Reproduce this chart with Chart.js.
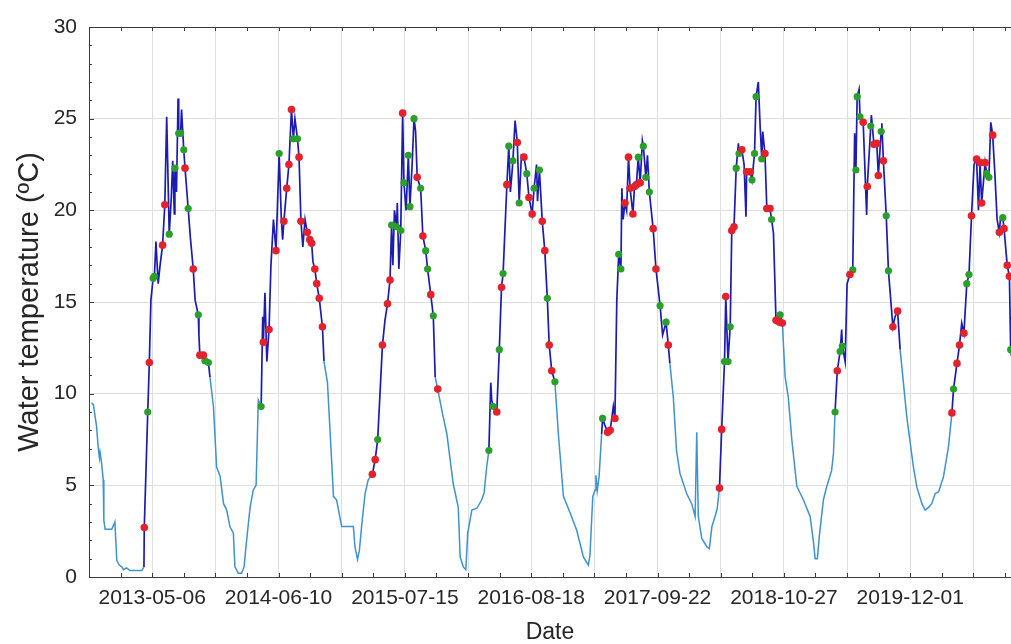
<!DOCTYPE html>
<html>
<head>
<meta charset="utf-8">
<title>Water temperature</title>
<script src="https://cdn.jsdelivr.net/npm/chart.js@4.4.1/dist/chart.umd.min.js"></script>
<style>
  html, body { margin: 0; padding: 0; background: #ffffff; overflow: hidden; }
  canvas { display: block; }
</style>
</head>
<body>
<canvas id="chart" width="1011" height="644"></canvas>
<script>
// Day 0 of the record is 2012-10-18; every x value below is a day count from it.
const START_DATE = Date.UTC(2012, 9, 18);

// Continuous water-temperature record (day, °C)
const dayNo = [
  8, 14, 24, 29, 33, 35, 40, 45, 47, 51, 72, 77, 82, 88, 96, 104, 109, 119, 130, 167,
  174, 175, 186, 191, 196, 203, 207, 212, 219, 225, 233, 240, 246, 254, 260, 265, 270, 272, 277, 282,
  284, 290, 293, 300, 304, 314, 321, 330, 336, 346, 348, 351, 362, 367, 378, 383, 394, 404, 415, 426,
  436, 446, 457, 462, 473, 483, 491, 499, 510, 520, 529, 536, 545, 550, 552, 557, 563, 570, 576, 584,
  592, 602, 609, 613, 617, 626, 633, 641, 647, 652, 660, 665, 671, 677, 684, 691, 699, 705, 709, 715,
  721, 729, 739, 744, 755, 763, 774, 784, 800, 837, 842, 850, 856, 863, 874, 884, 897, 906, 914, 929,
  937, 945, 953, 958, 962, 967, 974, 976, 981, 987, 993, 997, 1004, 1011, 1016, 1023, 1029, 1034, 1039, 1050,
  1057, 1066, 1072, 1082, 1090, 1096, 1104, 1117, 1133, 1153, 1169, 1175, 1185, 1193, 1199, 1212, 1228, 1243, 1251, 1259,
  1266, 1272, 1275, 1280, 1291, 1299, 1306, 1311, 1317, 1323, 1329, 1334, 1339, 1342, 1349, 1356, 1362, 1369, 1377, 1386,
  1393, 1403, 1409, 1417, 1420, 1426, 1435, 1443, 1451, 1457, 1465, 1475, 1486, 1502, 1523, 1544, 1555, 1565, 1581, 1586,
  1595, 1602, 1605, 1609, 1615, 1623, 1626, 1633, 1642, 1650, 1660, 1665, 1671, 1677, 1684, 1687, 1691, 1697, 1702, 1708,
  1713, 1722, 1727, 1733, 1739, 1745, 1752, 1755, 1763, 1768, 1774, 1786, 1795, 1808, 1816, 1827, 1834, 1839, 1850, 1860,
  1871, 1892, 1908, 1919, 1924, 1929, 1940, 1956, 1964, 1972, 1982, 1989, 1996, 2003, 2012, 2016, 2023, 2030, 2035, 2042,
  2049, 2056, 2058, 2067, 2074, 2080, 2082, 2093, 2099, 2107, 2112, 2119, 2125, 2130, 2133, 2140, 2146, 2156, 2161, 2167,
  2175, 2186, 2188, 2195, 2204, 2214, 2225, 2241, 2262, 2283, 2293, 2299, 2306, 2312, 2325, 2335, 2351, 2357, 2362, 2369,
  2378, 2383, 2385, 2394, 2400, 2409, 2418, 2424, 2428, 2432, 2438, 2441, 2451, 2462, 2464, 2475, 2477, 2485, 2494, 2499,
  2508, 2510, 2515, 2524, 2531, 2545, 2552, 2560, 2568, 2589, 2600, 2610, 2621, 2637, 2647, 2658, 2668, 2679, 2690, 2705,
  2721, 2732, 2737, 2748, 2756, 2763, 2770, 2779, 2786, 2794, 2802, 2810, 2816, 2821, 2826, 2837, 2842, 2849, 2855, 2861,
  2868, 2875, 2882, 2886, 2893, 2897, 2907, 2914, 2918, 2930
];
const tempC = [
  9.5, 9.4, 8.2, 7.1, 6.5, 6.8, 6.2, 5.3, 3.1, 2.6, 2.6, 2.8, 3.0, 0.9, 0.65, 0.55, 0.4, 0.5, 0.35, 0.35,
  0.55, 2.7, 9.0, 11.7, 15.1, 16.3, 16.4, 18.3, 16.0, 17.0, 18.1, 20.3, 25.1, 18.7, 20.5, 22.7, 19.8, 22.3, 21.0, 26.1,
  24.2, 24.2, 25.5, 23.3, 22.3, 20.1, 18.5, 16.8, 15.1, 14.3, 13.2, 12.1, 12.1, 11.8, 11.7, 10.9, 9.3, 6.0, 5.5, 4.0,
  3.65, 2.75, 2.4, 0.55, 0.2, 0.2, 0.55, 2.0, 3.8, 4.75, 5.0, 9.65, 9.3, 14.2, 12.8, 15.5, 11.75, 13.5, 17.0, 19.5,
  17.8, 23.1, 19.5, 18.4, 19.4, 21.2, 22.5, 25.5, 23.9, 25.0, 23.9, 22.9, 19.4, 18.0, 19.5, 18.8, 18.4, 18.2, 17.2, 16.8,
  16.0, 15.2, 13.65, 11.75, 10.6, 8.0, 4.4, 4.2, 2.75, 2.75, 1.65, 0.95, 1.45, 2.75, 4.55, 5.3, 5.6, 6.4, 7.5, 12.65,
  14.0, 14.9, 16.2, 19.2, 17.0, 20.0, 19.1, 20.4, 16.8, 18.9, 25.3, 21.5, 20.0, 23.0, 20.2, 22.5, 25.0, 24.3, 21.8, 21.2,
  18.6, 17.8, 16.8, 15.4, 14.25, 10.9, 10.25, 9.1, 7.8, 5.1, 3.8, 1.1, 0.55, 0.4, 2.4, 3.65, 3.75, 4.2, 4.6, 6.0,
  6.9, 10.6, 9.65, 9.3, 9.0, 12.4, 15.8, 16.55, 19.0, 21.4, 23.5, 21.0, 22.0, 22.7, 24.9, 23.7, 20.4, 23.0, 22.9, 22.0,
  20.7, 19.8, 21.2, 22.5, 20.5, 22.2, 19.4, 17.8, 15.2, 12.65, 11.25, 10.65, 7.8, 4.4, 3.5, 2.55, 1.8, 1.1, 0.65, 1.2,
  4.4, 4.75, 5.55, 4.7, 5.5, 7.8, 8.65, 8.3, 7.9, 8.0, 9.3, 8.65, 15.1, 17.6, 16.8, 21.2, 19.5, 20.4, 20.0, 22.9,
  21.2, 19.8, 21.3, 21.4, 22.9, 21.5, 23.8, 23.5, 21.8, 23.0, 21.0, 19.0, 16.8, 14.8, 13.2, 13.9, 12.65, 11.65, 9.8, 6.9,
  5.65, 4.55, 4.0, 3.3, 7.9, 3.3, 2.1, 1.65, 1.55, 2.75, 3.3, 3.75, 4.85, 8.05, 11.75, 15.3, 11.75, 13.65, 18.9, 19.1,
  22.3, 23.65, 23.1, 23.3, 22.5, 19.65, 22.1, 22.1, 21.65, 23.1, 26.2, 27.0, 24.5, 22.8, 24.3, 23.1, 20.1, 20.1, 19.5, 18.75,
  14.0, 13.9, 14.3, 13.85, 10.9, 9.8, 7.5, 4.95, 4.2, 3.3, 2.0, 1.0, 1.0, 2.2, 4.2, 4.9, 5.8, 6.75, 9.0, 11.25,
  12.3, 13.5, 12.6, 11.75, 16.0, 16.5, 16.75, 24.2, 22.2, 26.2, 26.6, 25.1, 24.8, 19.75, 21.3, 24.6, 25.2, 23.6, 23.65, 21.9,
  24.3, 24.75, 22.7, 19.7, 16.7, 13.65, 14.2, 14.5, 12.4, 8.75, 7.3, 6.0, 4.9, 4.0, 3.65, 3.8, 4.0, 4.55, 4.65, 5.45,
  7.1, 8.95, 10.25, 11.65, 12.65, 13.85, 13.3, 16.0, 16.5, 19.7, 22.5, 22.8, 20.0, 22.6, 20.4, 22.6, 22.0, 21.8, 24.8, 24.1,
  22.0, 19.5, 18.8, 19.6, 19.6, 19.0, 17.0, 16.4, 12.4, 11.0
];

// Warm-season windows (day ranges) drawn in dark blue
const seasonStart = [174, 545, 895, 1262, 1622, 1994, 2358, 2728];
const seasonEnd   = [385, 745, 1100, 1478, 1840, 2198, 2570, 2935];

// Sampling points, red set (day, °C)
const redDay = [
  175, 191, 233, 240, 304, 330, 351, 362,
  552, 570, 592, 617, 626, 633, 641, 665, 671, 691, 699, 705, 715, 721, 729, 739,
  897, 906, 929, 945, 953, 993, 1039, 1057, 1082, 1104,
  1291, 1306, 1323, 1356, 1377, 1393, 1403, 1435, 1443, 1457, 1465,
  1642, 1650, 1665, 1697, 1708, 1713, 1722, 1727, 1733, 1745, 1786, 1795, 1834,
  1996, 2003, 2016, 2035, 2042, 2067, 2082, 2093, 2140, 2146, 2156, 2175, 2186, 2195,
  2369, 2409, 2451, 2464, 2485, 2494, 2499, 2515, 2545, 2560,
  2732, 2748, 2756, 2770, 2794, 2810, 2821, 2826, 2837, 2861, 2882, 2897, 2907, 2914
];
const redTemp = [
  2.7, 11.7, 18.1, 20.3, 22.3, 16.8, 12.1, 12.1,
  12.8, 13.5, 17.8, 19.4, 21.2, 22.5, 25.5, 22.9, 19.4, 18.8, 18.4, 18.2, 16.8, 16.0, 15.2, 13.65,
  5.6, 6.4, 12.65, 14.9, 16.2, 25.3, 21.8, 18.6, 15.4, 10.25,
  9.0, 15.8, 21.4, 23.7, 22.9, 20.7, 19.8, 19.4, 17.8, 12.65, 11.25,
  7.9, 8.0, 8.65, 20.4, 22.9, 21.2, 19.8, 21.3, 21.4, 21.5, 19.0, 16.8, 12.65,
  4.85, 8.05, 15.3, 18.9, 19.1, 23.3, 22.1, 22.1, 23.1, 20.1, 20.1, 14.0, 13.9, 13.85,
  11.25, 16.5, 24.8, 21.3, 23.6, 23.65, 21.9, 22.7, 13.65, 14.5,
  8.95, 11.65, 12.65, 13.3, 19.7, 22.8, 22.6, 20.4, 22.6, 24.1, 18.8, 19.0, 17.0, 16.4
];

// Sampling points, green set (day, °C)
const greenDay = [
  186, 203, 207, 254, 272, 284, 290, 300, 314, 346, 367, 378,
  545, 602, 647, 660,
  914, 958, 974, 987, 997, 1011, 1016, 1029, 1050, 1066, 1072, 1090,
  1266, 1280, 1299, 1311, 1329, 1342, 1362, 1386, 1409, 1426, 1451, 1475,
  1626, 1677, 1684, 1739, 1755, 1763, 1774, 1808, 1827,
  2012, 2023, 2030, 2049, 2058, 2099, 2107, 2112, 2130, 2161, 2188,
  2362, 2378, 2385, 2418, 2428, 2432, 2441, 2475, 2508, 2524, 2531,
  2737, 2779, 2786, 2842, 2849, 2893, 2918
];
const greenTemp = [
  9.0, 16.3, 16.4, 18.7, 22.3, 24.2, 24.2, 23.3, 20.1, 14.3, 11.8, 11.7,
  9.3, 23.1, 23.9, 23.9,
  7.5, 19.2, 19.1, 18.9, 21.5, 23.0, 20.2, 25.0, 21.2, 17.8, 16.8, 14.25,
  6.9, 9.3, 12.4, 16.55, 23.5, 22.7, 20.4, 22.0, 21.2, 22.2, 15.2, 10.65,
  8.65, 17.6, 16.8, 22.9, 23.5, 21.8, 21.0, 14.8, 13.9,
  11.75, 11.75, 13.65, 22.3, 23.1, 21.65, 23.1, 26.2, 22.8, 19.5, 14.3,
  9.0, 12.3, 12.6, 16.75, 22.2, 26.2, 25.1, 24.6, 24.3, 19.7, 16.7,
  10.25, 16.0, 16.5, 22.0, 21.8, 19.6, 12.4
];

// Axis ranges and tick spacing
const X_MIN = 0, X_MAX = 2919;
const Y_MIN = 0, Y_MAX = 30;
const X_MINOR_STEP = 100, X_GRID_STEP = 200, X_LABEL_STEP = 400, X_LABEL_FIRST = 200;
const Y_MAJOR_STEP = 5;

const FONT = "'Liberation Sans', Arial, Helvetica, sans-serif";
const TEXT = '#262626';
const AXIS = '#3a3a3a';
const GRID = '#dedede';
const DARK = '#1c1cb0';
const LIGHT = '#3d92cf';
const RED = '#e3222c';
const GREEN = '#2b9f2b';

const fmtDate = v => new Date(START_DATE + v * 86400000).toISOString().slice(0, 10);
const inSeason = d => seasonStart.some((s, i) => d >= s && d <= seasonEnd[i]);
const pairs = (xs, ys) => xs.map((x, i) => ({ x, y: ys[i] }));

// Box outline on top plus inward tick marks on all drawn sides
const frame = {
  id: 'frame',
  afterDraw(chart) {
    const { ctx, chartArea: a, scales: { x, y } } = chart;
    ctx.save();
    ctx.strokeStyle = AXIS;
    ctx.lineWidth = 1;
    ctx.beginPath();
    ctx.moveTo(a.left, a.top + 0.5);
    ctx.lineTo(a.right, a.top + 0.5);
    for (let v = X_MIN; v <= X_MAX; v += X_MINOR_STEP) {
      const px = Math.round(x.getPixelForValue(v)) + 0.5;
      ctx.moveTo(px, a.bottom);
      ctx.lineTo(px, a.bottom - 4);
      ctx.moveTo(px, a.top);
      ctx.lineTo(px, a.top + 4);
    }
    for (let v = Y_MIN; v <= Y_MAX; v += 1) {
      const py = Math.round(y.getPixelForValue(v)) + 0.5;
      ctx.moveTo(a.left, py);
      ctx.lineTo(a.left + (v % Y_MAJOR_STEP ? 3 : 5), py);
    }
    ctx.stroke();
    ctx.restore();
  }
};

Chart.defaults.font.family = FONT;
Chart.defaults.color = TEXT;

new Chart(document.getElementById('chart'), {
  type: 'line',
  data: {
    datasets: [
      {
        label: 'Sampling (red)',
        data: pairs(redDay, redTemp),
        showLine: false,
        pointRadius: 3.8,
        pointBackgroundColor: RED,
        pointBorderColor: RED,
        pointBorderWidth: 0,
        order: 1
      },
      {
        label: 'Sampling (green)',
        data: pairs(greenDay, greenTemp),
        showLine: false,
        pointRadius: 3.6,
        pointBackgroundColor: GREEN,
        pointBorderColor: GREEN,
        pointBorderWidth: 0,
        order: 2
      },
      {
        label: 'Water temperature',
        data: pairs(dayNo, tempC),
        borderColor: LIGHT,
        borderWidth: 1.5,
        pointRadius: 0,
        tension: 0,
        order: 3,
        segment: {
          borderColor: c => (inSeason(dayNo[c.p0DataIndex]) && inSeason(dayNo[c.p1DataIndex])) ? DARK : LIGHT,
          borderWidth: c => (inSeason(dayNo[c.p0DataIndex]) && inSeason(dayNo[c.p1DataIndex])) ? 1.7 : 1.5
        }
      }
    ]
  },
  options: {
    responsive: false,
    animation: false,
    events: [],
    layout: { autoPadding: false, padding: { top: 27, right: 0, bottom: 0, left: 0 } },
    plugins: { legend: { display: false }, tooltip: { enabled: false } },
    scales: {
      x: {
        type: 'linear',
        min: X_MIN,
        max: X_MAX,
        afterFit: s => { s.height = 67; s.paddingLeft = 0; s.paddingRight = 0; },
        border: { color: AXIS, width: 1 },
        grid: {
          drawTicks: false,
          color: c => (c.tick && c.tick.value > X_MIN && c.tick.value % X_GRID_STEP === 0) ? GRID : 'rgba(0,0,0,0)'
        },
        ticks: {
          stepSize: X_MINOR_STEP,
          autoSkip: false,
          maxRotation: 0,
          padding: 9,
          color: TEXT,
          font: { size: 21 },
          callback: v => ((v - X_LABEL_FIRST) % X_LABEL_STEP === 0 ? fmtDate(v) : '')
        },
        title: {
          display: true,
          text: 'Date',
          color: TEXT,
          font: { size: 23, lineHeight: 1 },
          padding: 0
        }
      },
      y: {
        min: Y_MIN,
        max: Y_MAX,
        afterFit: s => { s.width = 89; },
        border: { color: AXIS, width: 1 },
        grid: {
          drawTicks: false,
          color: c => (c.tick && c.tick.value > Y_MIN && c.tick.value < Y_MAX) ? GRID : 'rgba(0,0,0,0)'
        },
        ticks: {
          stepSize: Y_MAJOR_STEP,
          padding: 12,
          color: TEXT,
          font: { size: 21 }
        },
        title: {
          display: true,
          text: 'Water temperature (ºC)',
          color: TEXT,
          font: { size: 29 },
          padding: { top: 13, bottom: 0 }
        }
      }
    }
  },
  plugins: [frame]
});
</script>
</body>
</html>
